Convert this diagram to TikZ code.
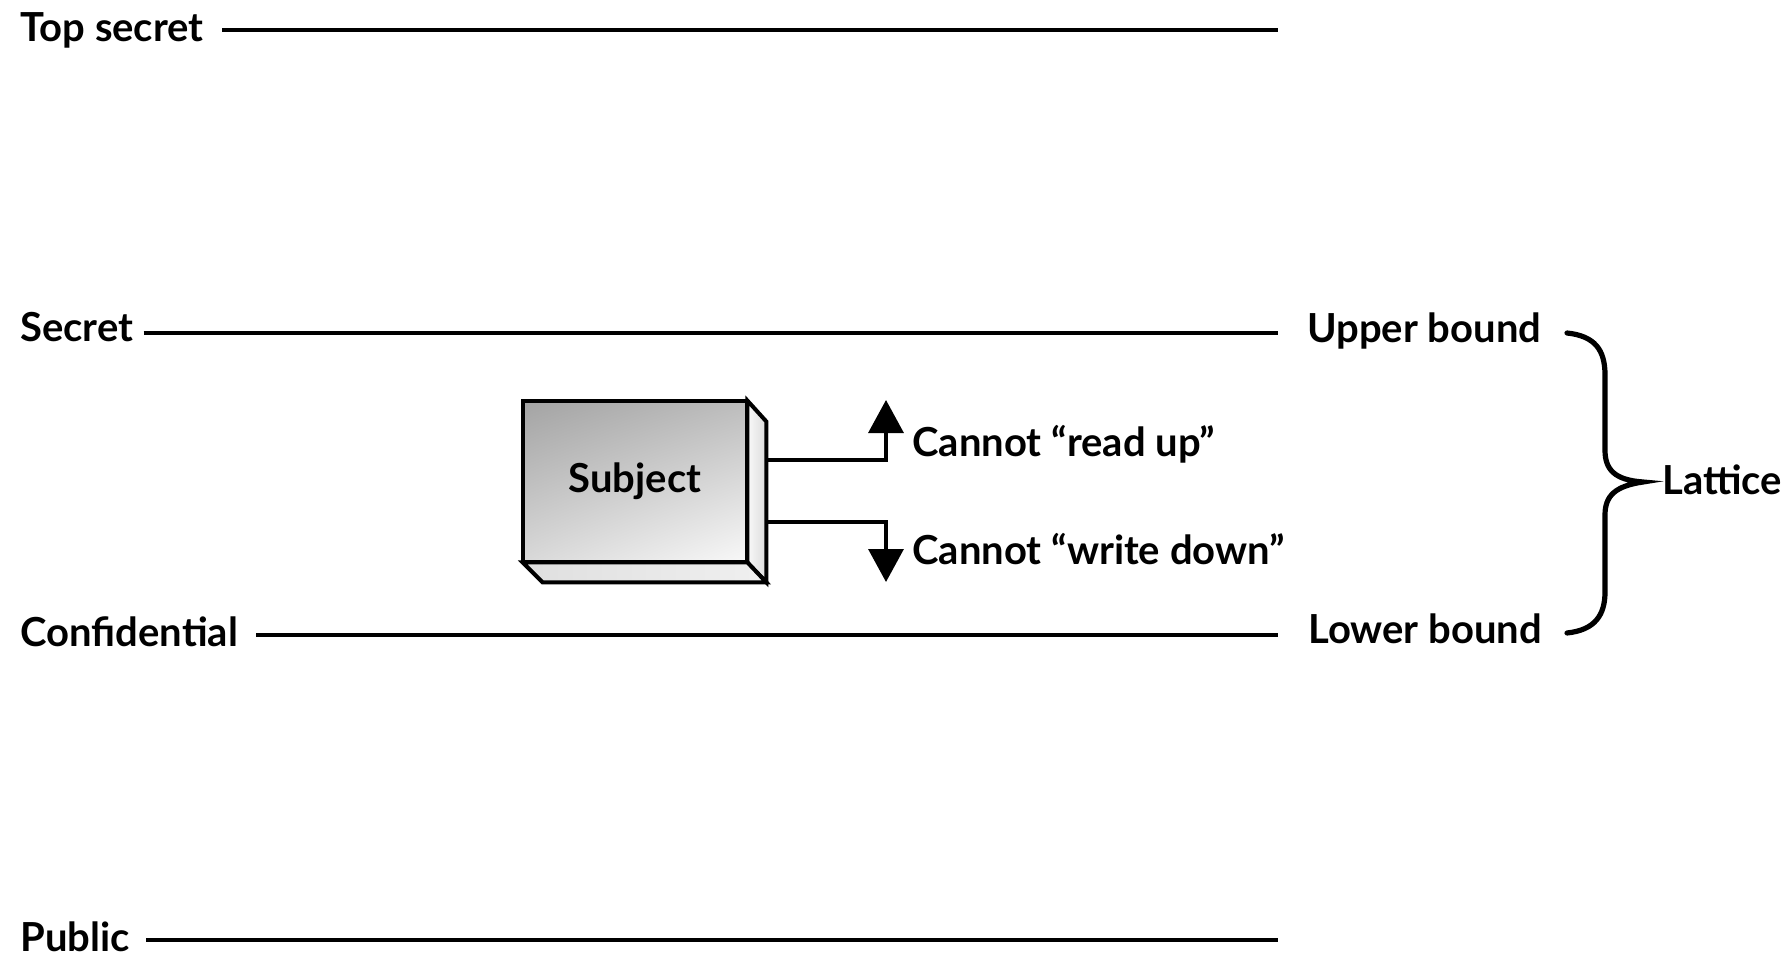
\documentclass[tikz,border=0pt]{standalone}
\usepackage{fontspec}
\setmainfont{Lato}
\usetikzlibrary{arrows.meta,calc,shadings}
\tikzset{
  lbl/.style={font=\fontsize{20}{24}\selectfont\bfseries, inner sep=0pt, anchor=base west},
  level/.style={line width=2.4pt},
  conn/.style={line width=1.7pt, -{Triangle[width=17.5pt,length=16.5pt]}},
  brc/.style={line width=2.6pt, line cap=round},
  edge3d/.style={line width=2pt, line join=miter},
}
\begin{document}
\begin{tikzpicture}[x=0.5pt,y=-0.5pt]
\useasboundingbox (0,0) rectangle (1789,957);
% level labels
\node[lbl] (ts) at (20,42) {Top secret};
\node[lbl] (se) at (20,342) {Secret};
\node[lbl] (co) at (20,646) {Confidential};
\node[lbl] (pu) at (20,951) {Public};
\coordinate (tsE) at (1278,30);
\coordinate (seE) at (1278,333);
\coordinate (coE) at (1278,635);
\coordinate (puE) at (1278,940);
\draw[level] (ts.east |- tsE) ++(18,0) -- (tsE);
\draw[level] (se.east |- seE) ++(10,0) -- (seE);
\draw[level] (co.east |- coE) ++(18,0) -- (coE);
\draw[level] (pu.east |- puE) ++(16,0) -- (puE);
% bounds
\node[lbl] (ub) at (1307,343) {Upper bound};
\node[lbl] (lb) at (1308,643) {Lower bound};
\node[lbl] (la) at (1662,494) {Lattice};
% brace
\coordinate (b1) at (1567,333);
\coordinate (bt) at (1643,482);
\coordinate (b2) at (1567,633);
\draw[brc] (b1) .. controls (1595,336) and (1605,350) .. (1605,375)
  -- (1605,450) .. controls (1605,470) and (1615,480) .. (bt)
  .. controls (1615,486) and (1605,496) .. (1605,515)
  -- (1605,592) .. controls (1605,615) and (1595,630) .. (b2);
% subject box
\node[minimum width=112pt, minimum height=80.5pt, inner sep=0pt] (subj) at (635,481.5) {};
\coordinate (fNW) at (subj.north west);
\coordinate (fNE) at (subj.north east);
\coordinate (fSE) at (subj.south east);
\coordinate (fSW) at (subj.south west);
\coordinate (sNE) at ($(fNE)+(19,21)$);
\coordinate (sSE) at ($(fSE)+(19,20)$);
\coordinate (sSW) at ($(fSW)+(20,20)$);
\shade[left color=gray!5, right color=gray!28, draw=black, edge3d] (fNE) -- (sNE) -- (sSE) -- (fSE) -- cycle;
\shade[left color=gray!25, right color=gray!12, draw=black, edge3d] (fSW) -- (fSE) -- (sSE) -- (sSW) -- cycle;
\shade[upper left=gray!72, upper right=gray!52, lower left=gray!30, lower right=gray!5, draw=black, edge3d] (fNW) rectangle (fSE);
\node[lbl, anchor=center] at (subj.center) {Subject};
% connectors
\coordinate (c1s) at (766,460);
\coordinate (c2s) at (766,522);
\coordinate (c1e) at (886,400);
\coordinate (c2e) at (886,582);
\draw[conn] (c1s) -| (c1e);
\draw[conn] (c2s) -| (c2e);
\node[lbl] (ru) at (912,456) {Cannot \char"201C read up\char"201D};
\node[lbl] (wd) at (912,564) {Cannot \char"201C write down\char"201D};
\end{tikzpicture}
\end{document}
